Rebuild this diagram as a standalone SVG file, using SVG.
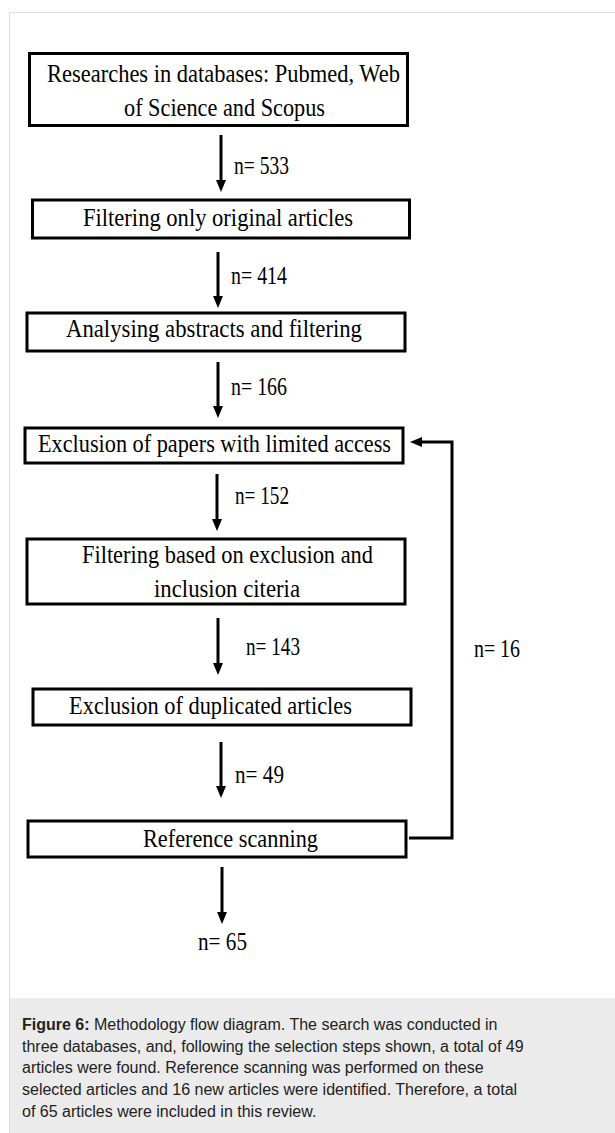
<svg xmlns="http://www.w3.org/2000/svg" width="615" height="1133" viewBox="0 0 615 1133">
<defs>
<marker id="ah" markerUnits="userSpaceOnUse" viewBox="0 0 12 10" refX="3" refY="5" markerWidth="12" markerHeight="10" orient="auto">
<path d="M0,0 L12,5 L0,10 z" fill="#000"/>
</marker>
<style>
.box{fill:#fff;stroke:#000;stroke-width:3}
.t{font-family:"Liberation Serif","DejaVu Serif",serif;font-size:25px;fill:#000}
.n{font-family:"Liberation Serif","DejaVu Serif",serif;font-size:25px;fill:#000}
.c{stroke:#000;stroke-width:3;fill:none;marker-end:url(#ah)}
.cap{font-family:"Liberation Sans",Arial,sans-serif;font-size:16px;fill:#222}
</style>
</defs>
<rect x="0" y="0" width="615" height="1133" fill="#fff"/>
<path d="M9.5,1133 V12.5 H615" fill="none" stroke="#dddddd" stroke-width="1"/>
<rect x="10" y="998" width="605" height="135" fill="#ebebeb"/>

<g id="connectors">
<line class="c" x1="221" y1="135" x2="221" y2="183"/>
<line class="c" x1="218" y1="252" x2="218" y2="299"/>
<line class="c" x1="218" y1="362" x2="218" y2="409"/>
<line class="c" x1="217" y1="474" x2="217" y2="522"/>
<line class="c" x1="218" y1="618" x2="218" y2="666"/>
<line class="c" x1="221" y1="742" x2="221" y2="789"/>
<line class="c" x1="222" y1="867" x2="222" y2="915"/>
<polyline class="c" points="409,838 452,838 452,442 419,442"/>
<text class="n" x="234" y="174" textLength="55" lengthAdjust="spacingAndGlyphs">n= 533</text>
<text class="n" x="231" y="284" textLength="56" lengthAdjust="spacingAndGlyphs">n= 414</text>
<text class="n" x="231" y="395" textLength="56" lengthAdjust="spacingAndGlyphs">n= 166</text>
<text class="n" x="235" y="504" textLength="54" lengthAdjust="spacingAndGlyphs">n= 152</text>
<text class="n" x="246" y="655" textLength="54" lengthAdjust="spacingAndGlyphs">n= 143</text>
<text class="n" x="235" y="783" textLength="49" lengthAdjust="spacingAndGlyphs">n= 49</text>
<text class="n" x="198" y="950" textLength="49" lengthAdjust="spacingAndGlyphs">n= 65</text>
<text class="n" x="474" y="657" textLength="46" lengthAdjust="spacingAndGlyphs">n= 16</text>
</g>

<g id="n1">
<rect class="box" x="29.5" y="53.5" width="378" height="72"/>
<text class="t" x="47" y="82" textLength="353" lengthAdjust="spacingAndGlyphs">Researches in databases: Pubmed, Web</text>
<text class="t" x="124" y="116" textLength="201" lengthAdjust="spacingAndGlyphs">of Science and Scopus</text>
</g>
<g id="n2">
<rect class="box" x="32.5" y="200" width="377" height="38"/>
<text class="t" x="83" y="226" textLength="270" lengthAdjust="spacingAndGlyphs">Filtering only original articles</text>
</g>
<g id="n3">
<rect class="box" x="27" y="313" width="378" height="38"/>
<text class="t" x="66" y="337" textLength="296" lengthAdjust="spacingAndGlyphs">Analysing abstracts and filtering</text>
</g>
<g id="n4">
<rect class="box" x="25" y="428" width="378" height="35"/>
<text class="t" x="38" y="452" textLength="353" lengthAdjust="spacingAndGlyphs">Exclusion of papers with limited access</text>
</g>
<g id="n5">
<rect class="box" x="27" y="539" width="378" height="65"/>
<text class="t" x="82" y="563" textLength="291" lengthAdjust="spacingAndGlyphs">Filtering based on exclusion and</text>
<text class="t" x="154" y="597" textLength="146" lengthAdjust="spacingAndGlyphs">inclusion citeria</text>
</g>
<g id="n6">
<rect class="box" x="33" y="689" width="378" height="36"/>
<text class="t" x="69" y="714" textLength="283" lengthAdjust="spacingAndGlyphs">Exclusion of duplicated articles</text>
</g>
<g id="n7">
<rect class="box" x="28" y="821" width="378" height="36"/>
<text class="t" x="143" y="847" textLength="175" lengthAdjust="spacingAndGlyphs">Reference scanning</text>
</g>

<g id="caption">
<text class="cap" x="22" y="1030"><tspan font-weight="bold">Figure 6:</tspan> Methodology flow diagram. The search was conducted in</text>
<text class="cap" x="22" y="1052">three databases, and, following the selection steps shown, a total of 49</text>
<text class="cap" x="22" y="1073">articles were found. Reference scanning was performed on these</text>
<text class="cap" x="22" y="1095">selected articles and 16 new articles were identified. Therefore, a total</text>
<text class="cap" x="22" y="1117">of 65 articles were included in this review.</text>
</g>
</svg>
